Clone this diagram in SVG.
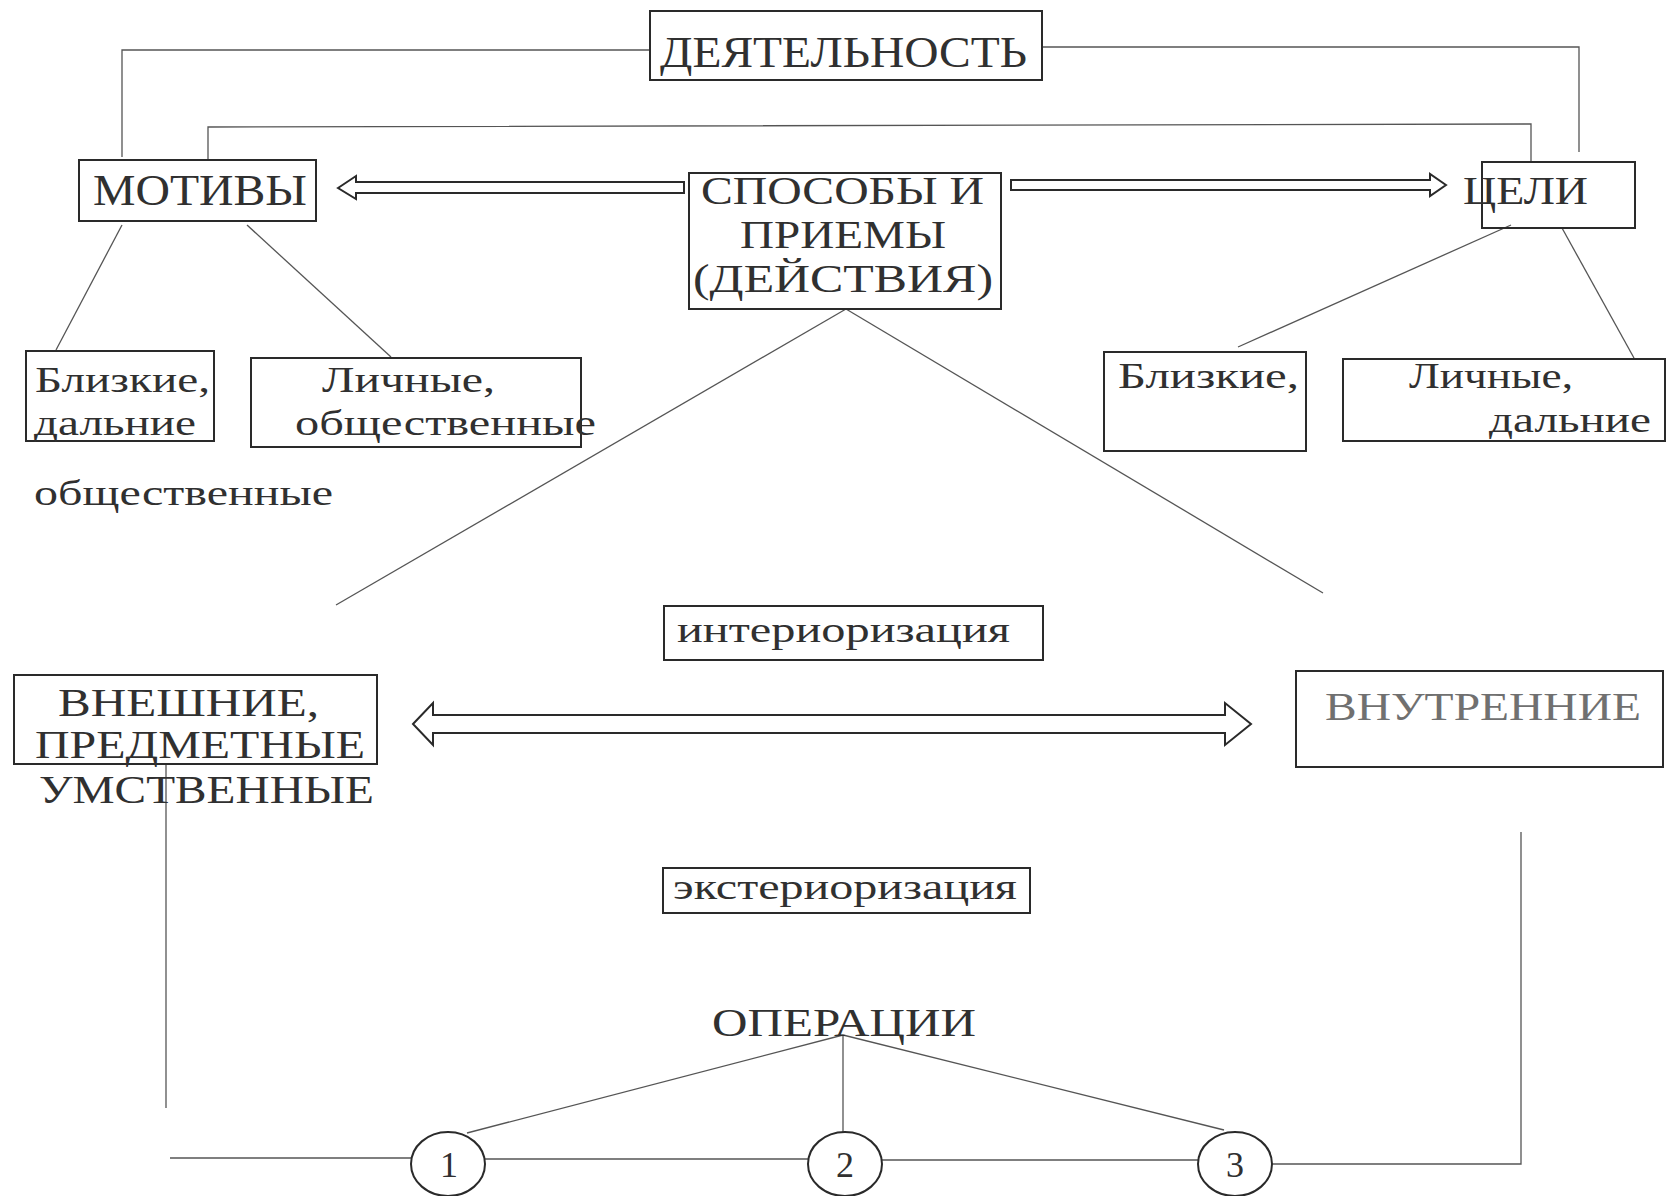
<svg xmlns="http://www.w3.org/2000/svg" width="1667" height="1196" viewBox="0 0 1667 1196">
<style>
  .bg { fill: #ffffff; }
  .box { fill: none; stroke: #2a2a2a; stroke-width: 2; }
  .ln { fill: none; stroke: #555555; stroke-width: 1.3; }
  .arr { fill: #ffffff; stroke: #2a2a2a; stroke-width: 2; stroke-linejoin: miter; }
  .t { font-family: "Liberation Serif", "Times New Roman", serif; fill: #303030; }
  .big { font-size: 44px; }
  .mid { font-size: 41px; }
  .sm { font-size: 36px; }
  .num { font-size: 36px; text-anchor: middle; }
  .faint { fill: #707070; }
</style>
<rect class="bg" x="0" y="0" width="1667" height="1196"/>

<g id="connectors">
  <polyline class="ln" points="650,50 122,50 122,157"/>
  <polyline class="ln" points="1042,47 1579,47 1579,152"/>
  <polyline class="ln" points="208,161 208,127 1531,124 1531,162"/>
  <line class="ln" x1="122" y1="225" x2="56" y2="350"/>
  <line class="ln" x1="247" y1="225" x2="391" y2="357"/>
  <line class="ln" x1="1511" y1="225" x2="1238" y2="347"/>
  <line class="ln" x1="1562" y1="228" x2="1634" y2="358"/>
  <line class="ln" x1="846" y1="309" x2="336" y2="605"/>
  <line class="ln" x1="846" y1="309" x2="1323" y2="593"/>
  <line class="ln" x1="166" y1="765" x2="166" y2="1108"/>
  <line class="ln" x1="170" y1="1158" x2="411" y2="1158"/>
  <line class="ln" x1="485" y1="1159" x2="808" y2="1159"/>
  <line class="ln" x1="882" y1="1160" x2="1198" y2="1160"/>
  <polyline class="ln" points="1272,1164 1521,1164 1521,832"/>
  <line class="ln" x1="843" y1="1035" x2="467" y2="1133"/>
  <line class="ln" x1="843" y1="1035" x2="843" y2="1133"/>
  <line class="ln" x1="843" y1="1035" x2="1224" y2="1130"/>
  <polygon class="arr" points="338,188 356,176 356,182 684,182 684,193 356,193 356,199"/>
  <polygon class="arr" points="1446,185 1430,174 1430,180 1011,180 1011,190 1430,190 1430,196"/>
  <polygon class="arr" points="413,724 433,703 433,715 1225,715 1225,703 1251,724 1225,745 1225,733 433,733 433,745"/>
</g>

<g id="node-deyatelnost">
  <rect class="box" x="650" y="11" width="392" height="69"/>
  <text class="t big" x="660" y="67" textLength="367" lengthAdjust="spacingAndGlyphs">ДЕЯТЕЛЬНОСТЬ</text>
</g>
<g id="node-motivy">
  <rect class="box" x="79" y="160" width="237" height="61"/>
  <text class="t big" x="93" y="205" textLength="214" lengthAdjust="spacingAndGlyphs">МОТИВЫ</text>
</g>
<g id="node-sposoby">
  <rect class="box" x="689" y="173" width="312" height="136"/>
  <text class="t mid" x="701" y="204" textLength="283" lengthAdjust="spacingAndGlyphs">СПОСОБЫ И</text>
  <text class="t mid" x="740" y="248" textLength="206" lengthAdjust="spacingAndGlyphs">ПРИЕМЫ</text>
  <text class="t mid" x="693" y="292" textLength="300" lengthAdjust="spacingAndGlyphs">(ДЕЙСТВИЯ)</text>
</g>
<g id="node-tseli">
  <rect class="box" x="1482" y="162" width="153" height="66"/>
  <text class="t mid" x="1463" y="204" textLength="125" lengthAdjust="spacingAndGlyphs">ЦЕЛИ</text>
</g>
<g id="node-motivy-blizkie">
  <rect class="box" x="26" y="351" width="188" height="90"/>
  <text class="t sm" x="35" y="392" textLength="175" lengthAdjust="spacingAndGlyphs">Близкие,</text>
  <text class="t sm" x="34" y="435" textLength="162" lengthAdjust="spacingAndGlyphs">дальние</text>
</g>
<g id="node-motivy-lichnye">
  <rect class="box" x="251" y="358" width="330" height="89"/>
  <text class="t sm" x="322" y="392" textLength="173" lengthAdjust="spacingAndGlyphs">Личные,</text>
  <text class="t sm" x="295" y="435" textLength="301" lengthAdjust="spacingAndGlyphs">общественные</text>
</g>
<g id="label-obshchestvennye">
  <text class="t sm" x="34" y="505" textLength="299" lengthAdjust="spacingAndGlyphs">общественные</text>
</g>
<g id="node-tseli-blizkie">
  <rect class="box" x="1104" y="352" width="202" height="99"/>
  <text class="t sm" x="1118" y="388" textLength="181" lengthAdjust="spacingAndGlyphs">Близкие,</text>
</g>
<g id="node-tseli-lichnye">
  <rect class="box" x="1343" y="359" width="322" height="82"/>
  <text class="t sm" x="1409" y="388" textLength="164" lengthAdjust="spacingAndGlyphs">Личные,</text>
  <text class="t sm" x="1489" y="432" textLength="162" lengthAdjust="spacingAndGlyphs">дальние</text>
</g>
<g id="node-interiorizatsiya">
  <rect class="box" x="664" y="606" width="379" height="54"/>
  <text class="t sm" x="677" y="642" textLength="333" lengthAdjust="spacingAndGlyphs">интериоризация</text>
</g>
<g id="node-vneshnie">
  <rect class="box" x="14" y="675" width="363" height="89"/>
  <text class="t mid" x="58" y="716" textLength="261" lengthAdjust="spacingAndGlyphs">ВНЕШНИЕ,</text>
  <text class="t mid" x="35" y="758" textLength="330" lengthAdjust="spacingAndGlyphs">ПРЕДМЕТНЫЕ</text>
  <text class="t mid" x="39" y="803" textLength="335" lengthAdjust="spacingAndGlyphs">УМСТВЕННЫЕ</text>
</g>
<g id="node-vnutrennie">
  <rect class="box" x="1296" y="671" width="367" height="96"/>
  <text class="t mid faint" x="1325" y="720" textLength="316" lengthAdjust="spacingAndGlyphs">ВНУТРЕННИЕ</text>
</g>
<g id="node-eksteriorizatsiya">
  <rect class="box" x="663" y="868" width="367" height="45"/>
  <text class="t sm" x="673" y="899" textLength="344" lengthAdjust="spacingAndGlyphs">экстериоризация</text>
</g>
<g id="node-operatsii">
  <text class="t mid" x="712" y="1036" textLength="264" lengthAdjust="spacingAndGlyphs">ОПЕРАЦИИ</text>
</g>
<g id="node-op1">
  <ellipse class="box" cx="448" cy="1164" rx="37" ry="32"/>
  <text class="t num" x="449" y="1177">1</text>
</g>
<g id="node-op2">
  <ellipse class="box" cx="845" cy="1164" rx="37" ry="32"/>
  <text class="t num" x="845" y="1177">2</text>
</g>
<g id="node-op3">
  <ellipse class="box" cx="1235" cy="1164" rx="37" ry="32"/>
  <text class="t num" x="1235" y="1177">3</text>
</g>
</svg>
